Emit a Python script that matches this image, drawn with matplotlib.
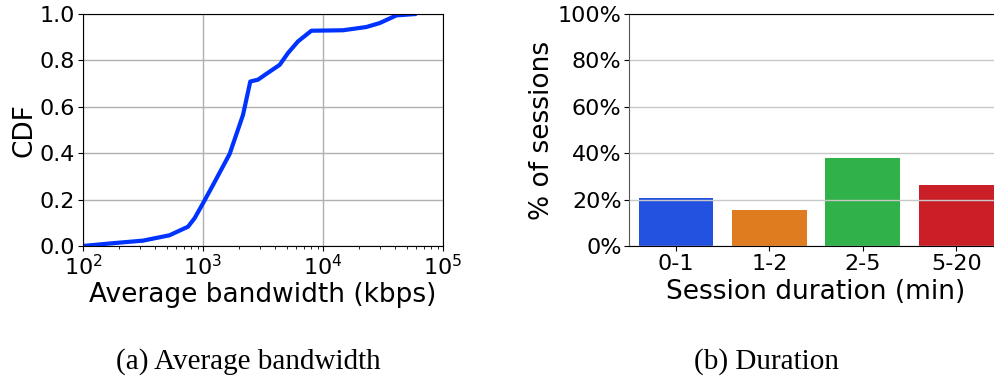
import numpy as np
import matplotlib
matplotlib.use("Agg")
from matplotlib import pyplot as plt
from matplotlib.ticker import PercentFormatter

# CDF of average bandwidth per session (kbps)
bw_kbps = [100, 178, 316, 525, 750, 852, 1000, 1212, 1668, 2154, 2477, 2872, 3373,
           4356, 5109, 6190, 8000, 14678, 22960, 29660, 40840, 59100]
bw_cdf = [0.0, 0.012, 0.023, 0.046, 0.083, 0.12, 0.184, 0.263, 0.397, 0.565, 0.709,
          0.717, 0.742, 0.781, 0.832, 0.882, 0.928, 0.930, 0.944, 0.961, 0.994, 1.0]

# session duration buckets
durations = ["0-1", "1-2", "2-5", "5-20"]
session_pct = [20.6, 15.5, 37.9, 26.2]
bar_colors = ["#2351e0", "#df7c20", "#30b14a", "#cb1f28"]

plt.rcParams["font.family"] = "DejaVu Sans"

fig = plt.figure(figsize=(9.94, 3.79), dpi=100)

# (a) bandwidth CDF
ax1 = fig.add_axes([0.0835, 0.351, 0.3622, 0.612])
ax1.plot(bw_kbps, bw_cdf, color="#0033ff", linewidth=3, solid_capstyle="round")
ax1.set_xscale("log")
ax1.set_xlim(1e2, 1e5)
ax1.set_ylim(0, 1)
ax1.set_yticks(np.arange(0, 1.01, 0.2))
ax1.grid(True, which="major", color="#b0b0b0", linewidth=1)
ax1.tick_params(labelsize=16, pad=2)
ax1.set_xlabel("Average bandwidth (kbps)", fontsize=19, labelpad=2)
ax1.set_ylabel("CDF", fontsize=19, labelpad=2)

# (b) duration bars
ax2 = fig.add_axes([0.633, 0.351, 0.376, 0.612])
x = np.arange(len(durations))
ax2.bar(x, session_pct, width=0.8, color=bar_colors, zorder=2)
ax2.set_xlim(-0.5, 3.5)
ax2.set_ylim(0, 100)
ax2.set_xticks(x)
ax2.set_xticklabels(durations)
ax2.set_yticks(np.arange(0, 101, 20))
ax2.yaxis.set_major_formatter(PercentFormatter(decimals=0))
ax2.grid(True, axis="y", color="#c8c8c8", linewidth=1, zorder=3)
ax2.set_axisbelow(False)
ax2.spines["left"].set_color("#555555")
for side in ["top", "bottom"]:
    ax2.spines[side].set_zorder(5)
ax2.tick_params(labelsize=16, pad=2)
ax2.set_xlabel("Session duration (min)", fontsize=19, labelpad=4)
ax2.set_ylabel("% of sessions", fontsize=19, labelpad=2)

# subfigure captions
fig.text(248 / 994, 1 - 362 / 379, "(a) Average bandwidth", family="Liberation Serif",
         fontsize=21, ha="center", va="center")
fig.text(766 / 994, 1 - 362 / 379, "(b) Duration", family="Liberation Serif",
         fontsize=21, ha="center", va="center")

fig.savefig("out.png", dpi=100)
